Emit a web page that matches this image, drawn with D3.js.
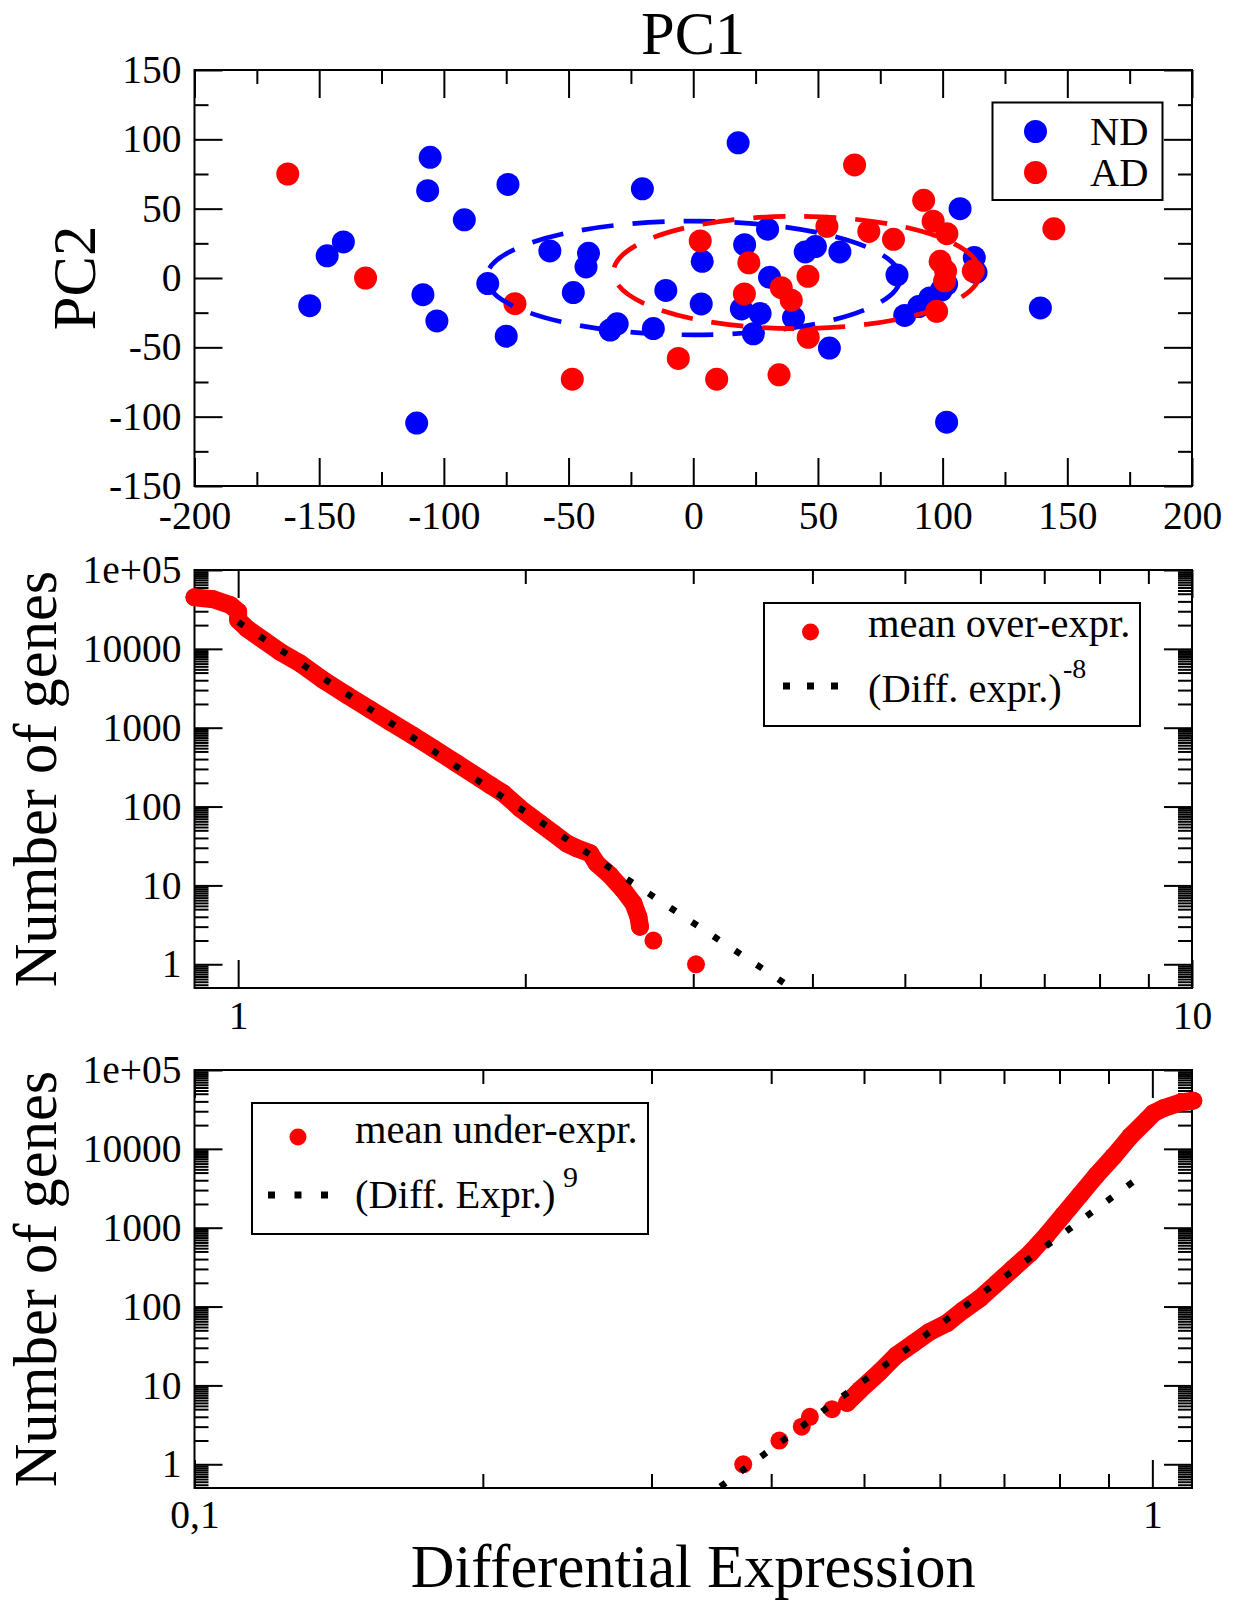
<!DOCTYPE html>
<html><head><meta charset="utf-8">
<script src="https://cdn.jsdelivr.net/npm/d3@7"></script>
<style>
body{margin:0;background:#fff}
svg{display:block}
text{font-family:"Liberation Serif","Times New Roman",serif;fill:#000}
</style>
</head><body>
<svg id="c" width="1234" height="1601"></svg>
<script>
// ---------------- DATA ----------------
// Panel 1: PCA scatter (PC1, PC2)
const ndPoints = [
  [-105.5, 87], [-106.5, 63], [-74.3, 67.5], [-91.8, 42], [-140.3, 26], [-146.8, 16],
  [-153.8, -20], [-108.4, -12], [-102.8, -31], [-82.4, -4], [-75, -42], [-110.9, -104.6],
  [-57.5, 19.5], [-42, 17.8], [-43, 8], [-48.1, -10.5], [-33.3, -37.5], [-30.5, -33],
  [-16, -36.5], [-11, -9], [-20.4, 64.3], [18, 97.5], [3.6, 12], [3.2, -18.7],
  [20.6, 24], [29.8, 35.2], [30.6, 0.5], [19.3, -22.3], [26.8, -25.6], [24.1, -40.2],
  [40.2, -28.7], [44.9, 18.8], [49, 22.7], [58.8, 18.8], [54.6, -50.5], [81.7, 2.2],
  [84.8, -27], [90.4, -20.6], [94.9, -14.4], [99.5, -8.7], [101.6, -4.4], [107, 50],
  [112.7, 14.8], [113.4, 4], [139.2, -21.6], [101.6, -104]
];
const adPoints = [
  [-162.6, 75], [-131.4, 0], [-71.5, -18.5], [-48.5, -73], [-6, -58], [2.8, 26.7],
  [9.4, -73], [22.3, 11], [20.5, -11.5], [34.4, -69.8], [35.3, -7], [39.3, -16],
  [46, 1.2], [46.1, -42.8], [53.6, 37.3], [64.7, 81.5], [70.4, 33.6], [80.3, 27.9],
  [92.4, 56], [96.2, 41], [101.7, 32], [99, 12], [101.2, 5], [100.8, -2],
  [97.6, -24], [112.3, 5], [144.6, 35.5]
];
const ndEllipse = {cx: 0, cy: 0, rx: 83, ry: 41};
const adEllipse = {cx: 41.5, cy: 4, rx: 73.5, ry: 40.5};
const pcaXTicks = [-200, -150, -100, -50, 0, 50, 100, 150, 200];
const pcaYTicks = [-150, -100, -50, 0, 50, 100, 150];
const pcaSeries = ["ND", "AD"];

// Panel 2: mean over-expression (Diff. expr., number of genes)
const overExpr = [
  [0.90, 45000], [0.942, 42500], [0.981, 36000], [1.0, 29600], [1.0, 23200], [1.021, 18200],
  [1.063, 12900], [1.106, 9200], [1.161, 6560], [1.228, 4030], [1.300, 2600], [1.375, 1710],
  [1.443, 1190], [1.526, 790], [1.602, 548], [1.695, 353], [1.793, 228], [1.837, 188],
  [1.897, 147], [1.975, 95], [2.073, 61], [2.140, 46], [2.211, 34], [2.265, 29.6],
  [2.339, 25.6], [2.376, 19], [2.454, 13.5], [2.535, 8.7], [2.597, 5.9], [2.628, 4], [2.638, 3]
];
const overExprTail = [[2.725, 2], [3.02, 1]];
const overFit = [[1.0, 21900], [3.76, 0.55]];

// Panel 3: mean under-expression
const underExprTail = [[0.374, 1], [0.408, 2], [0.4305, 3], [0.439, 4], [0.463, 5]];
const underExpr = [
  [0.48, 6], [0.4953, 8.75], [0.5195, 14.9], [0.5408, 24.3], [0.563, 34.2], [0.5858, 48],
  [0.6099, 61.3], [0.635, 90.3], [0.6607, 127], [0.6878, 197], [0.7157, 305], [0.7452, 473],
  [0.7757, 807], [0.8073, 1449], [0.8404, 2600], [0.8747, 4660], [0.9104, 7960], [0.9478, 14260],
  [0.9865, 23200], [1.0023, 28200], [1.0266, 32700], [1.0686, 38500], [1.1034, 40800]
];
const underFit = [[0.354, 0.52], [0.957, 3900]];

const countTicks = [1, 10, 100, 1000, 10000, 100000];
const countTickLabels = ["1", "10", "100", "1000", "10000", "1e+05"];
const overXTicks = [1, 10];
const overXTickLabels = ["1", "10"];
const underXTicks = [0.1, 1];
const underXTickLabels = ["0,1", "1"];

// ---------------- LAYOUT ----------------
const FONT = '"Liberation Serif","Times New Roman",serif';
const TICK_FS = 39.5, LEG_FS = 40.5, TITLE_FS = 60.5;
const L = 194.5, R = 1192;
const P1 = {top: 70, bottom: 486};
const P2 = {top: 570, bottom: 988};
const P3 = {top: 1070, bottom: 1488};
const BLUE = "#0000ff", RED = "#ff0000";
const svg = d3.select("#c");

function frame(p) {
  svg.append("rect").attr("x", L).attr("y", p.top).attr("width", R - L).attr("height", p.bottom - p.top)
    .attr("fill", "none").attr("stroke", "#000").attr("stroke-width", 2);
}

function axes(x, y, p, xMajor, xMinor, yMajor, yMinor, xFmt, yFmt, xLabelY) {
  const MAJ = 28, MIN = 14;
  const add = (axis, tr) => {
    const g = svg.append("g").attr("transform", tr).call(axis);
    g.select(".domain").remove();
    g.selectAll("line").attr("stroke", "#000").attr("stroke-width", 2);
    g.attr("font-size", TICK_FS).attr("font-family", FONT);
    return g;
  };
  const gb = add(d3.axisBottom(x).tickValues(xMajor).tickSize(-MAJ).tickFormat(xFmt), `translate(0,${p.bottom})`);
  gb.selectAll("text").attr("y", xLabelY).attr("dy", null);
  add(d3.axisBottom(x).tickValues(xMinor).tickSize(-MIN).tickFormat(""), `translate(0,${p.bottom})`);
  add(d3.axisTop(x).tickValues(xMajor).tickSize(-MAJ).tickFormat(""), `translate(0,${p.top})`);
  add(d3.axisTop(x).tickValues(xMinor).tickSize(-MIN).tickFormat(""), `translate(0,${p.top})`);
  add(d3.axisLeft(y).tickValues(yMajor).tickSize(-MAJ).tickPadding(13).tickFormat(yFmt), `translate(${L},0)`);
  add(d3.axisLeft(y).tickValues(yMinor).tickSize(-MIN).tickFormat(""), `translate(${L},0)`);
  add(d3.axisRight(y).tickValues(yMajor).tickSize(-MAJ).tickFormat(""), `translate(${R},0)`);
  add(d3.axisRight(y).tickValues(yMinor).tickSize(-MIN).tickFormat(""), `translate(${R},0)`);
}

function logMinor(domain, mults) {
  const out = [];
  for (let e = -2; e <= 6; e++) {
    mults.forEach(m => {
      const v = m * Math.pow(10, e);
      if (v > domain[0] * 1.0001 && v < domain[1] * 0.9999) out.push(v);
    });
  }
  return out;
}
const yMinorMults = [2, 3, 4, 5, 5.5, 6, 6.5, 7, 7.5, 8, 8.5, 9, 9.5];
const xMinorMults = [2, 3, 4, 5, 6, 7, 8, 9];

// ---------------- PANEL 1 ----------------
const x1 = d3.scaleLinear().domain([-200, 200]).range([L, R]);
const y1 = d3.scaleLinear().domain([-150, 150]).range([P1.bottom, P1.top]);
frame(P1);
const pcaXMinor = d3.range(-175, 200, 50);
const pcaYMinor = d3.range(-125, 150, 50);
axes(x1, y1, P1, pcaXTicks, pcaXMinor, pcaYTicks, pcaYMinor, d => d, d => d, 43);

const gp1 = svg.append("g");
gp1.selectAll("circle.nd").data(ndPoints).join("circle").attr("class", "nd")
  .attr("cx", d => x1(d[0])).attr("cy", d => y1(d[1])).attr("r", 11.5).attr("fill", BLUE);
gp1.selectAll("circle.ad").data(adPoints).join("circle").attr("class", "ad")
  .attr("cx", d => x1(d[0])).attr("cy", d => y1(d[1])).attr("r", 11.5).attr("fill", RED);
[[ndEllipse, BLUE], [adEllipse, RED]].forEach(([e, c]) => {
  gp1.append("ellipse")
    .attr("cx", x1(e.cx)).attr("cy", y1(e.cy))
    .attr("rx", x1(e.cx + e.rx) - x1(e.cx)).attr("ry", y1(e.cy - e.ry) - y1(e.cy))
    .attr("fill", "none").attr("stroke", c).attr("stroke-width", 4.7)
    .attr("stroke-dasharray", "32 19");
});

// title and y label
svg.append("text").attr("x", x1(0)).attr("y", 54).attr("text-anchor", "middle")
  .attr("font-size", TITLE_FS).text("PC1");
svg.append("text").attr("transform", `translate(95,${(P1.top + P1.bottom) / 2}) rotate(-90)`)
  .attr("text-anchor", "middle").attr("font-size", TITLE_FS).text("PC2");

// legend 1
const lg1 = svg.append("g");
lg1.append("rect").attr("x", 992.5).attr("y", 102.5).attr("width", 170).attr("height", 97.5)
  .attr("fill", "#fff").attr("stroke", "#000").attr("stroke-width", 2);
pcaSeries.forEach((s, i) => {
  lg1.append("circle").attr("cx", 1035.5).attr("cy", 131.5 + i * 41).attr("r", 11.5)
    .attr("fill", i === 0 ? BLUE : RED);
  lg1.append("text").attr("x", 1148.5).attr("y", 145 + i * 41).attr("text-anchor", "end")
    .attr("font-size", LEG_FS).text(s);
});

// ---------------- PANEL 2 ----------------
const x2 = d3.scaleLog().domain([0.9, 10]).range([L, R]);
const y2 = d3.scaleLog().domain([0.5, 1e5]).range([P2.bottom, P2.top]);
frame(P2);
axes(x2, y2, P2, overXTicks, logMinor([0.9, 10], xMinorMults),
  countTicks, logMinor([0.5, 1e5], yMinorMults),
  (d, i) => overXTickLabels[i], (d, i) => countTickLabels[i], 41);

const gp2 = svg.append("g");
gp2.append("path").datum(overExpr)
  .attr("d", d3.line().x(d => x2(d[0])).y(d => y2(d[1])))
  .attr("fill", "none").attr("stroke", RED).attr("stroke-width", 18)
  .attr("stroke-linejoin", "round").attr("stroke-linecap", "round");
gp2.selectAll("circle").data(overExpr.concat(overExprTail)).join("circle")
  .attr("cx", d => x2(d[0])).attr("cy", d => y2(d[1])).attr("r", 9).attr("fill", RED);
gp2.append("path").datum(overFit)
  .attr("d", d3.line().x(d => x2(d[0])).y(d => y2(d[1])))
  .attr("fill", "none").attr("stroke", "#000").attr("stroke-width", 6.5)
  .attr("stroke-dasharray", "6.5 19.4");

svg.append("text").attr("transform", `translate(55.5,${(P2.top + P2.bottom) / 2}) rotate(-90)`)
  .attr("text-anchor", "middle").attr("font-size", TITLE_FS).text("Number of genes");

// legend 2
const lg2 = svg.append("g");
lg2.append("rect").attr("x", 764).attr("y", 603).attr("width", 376).attr("height", 123)
  .attr("fill", "#fff").attr("stroke", "#000").attr("stroke-width", 2);
lg2.append("circle").attr("cx", 810.5).attr("cy", 632).attr("r", 8.5).attr("fill", RED);
lg2.append("text").attr("x", 868).attr("y", 637).attr("font-size", LEG_FS).text("mean over-expr.");
lg2.append("line").attr("x1", 783).attr("x2", 839).attr("y1", 686).attr("y2", 686)
  .attr("stroke", "#000").attr("stroke-width", 7).attr("stroke-dasharray", "7 17");
lg2.append("text").attr("x", 868).attr("y", 702).attr("font-size", LEG_FS).text("(Diff. expr.)");
lg2.append("text").attr("x", 1063).attr("y", 678).attr("font-size", 28).text("-8");

// ---------------- PANEL 3 ----------------
const x3 = d3.scaleLog().domain([0.1, 1.1]).range([L, R]);
const y3 = d3.scaleLog().domain([0.5, 1e5]).range([P3.bottom, P3.top]);
frame(P3);
axes(x3, y3, P3, underXTicks, logMinor([0.1, 1.1], xMinorMults),
  countTicks, logMinor([0.5, 1e5], yMinorMults),
  (d, i) => underXTickLabels[i], (d, i) => countTickLabels[i], 40);

const gp3 = svg.append("g");
gp3.append("path").datum(underExpr)
  .attr("d", d3.line().x(d => x3(d[0])).y(d => y3(d[1])))
  .attr("fill", "none").attr("stroke", RED).attr("stroke-width", 18)
  .attr("stroke-linejoin", "round").attr("stroke-linecap", "round");
gp3.selectAll("circle").data(underExprTail.concat(underExpr)).join("circle")
  .attr("cx", d => x3(d[0])).attr("cy", d => y3(d[1])).attr("r", 9).attr("fill", RED);
gp3.append("path").datum(underFit)
  .attr("d", d3.line().x(d => x3(d[0])).y(d => y3(d[1])))
  .attr("fill", "none").attr("stroke", "#000").attr("stroke-width", 6.5)
  .attr("stroke-dasharray", "6.5 18.8");

svg.append("text").attr("transform", `translate(55.5,${(P3.top + P3.bottom) / 2}) rotate(-90)`)
  .attr("text-anchor", "middle").attr("font-size", TITLE_FS).text("Number of genes");

// legend 3
const lg3 = svg.append("g");
lg3.append("rect").attr("x", 252).attr("y", 1103).attr("width", 396).attr("height", 131)
  .attr("fill", "#fff").attr("stroke", "#000").attr("stroke-width", 2);
lg3.append("circle").attr("cx", 298).attr("cy", 1137).attr("r", 8.5).attr("fill", RED);
lg3.append("text").attr("x", 355).attr("y", 1143).attr("font-size", LEG_FS).text("mean under-expr.");
lg3.append("line").attr("x1", 268).attr("x2", 328).attr("y1", 1195).attr("y2", 1195)
  .attr("stroke", "#000").attr("stroke-width", 7).attr("stroke-dasharray", "7 19.5");
lg3.append("text").attr("x", 355).attr("y", 1208).attr("font-size", LEG_FS).text("(Diff. Expr.)");
lg3.append("text").attr("x", 563).attr("y", 1187).attr("font-size", 30).text("9");

// x label
svg.append("text").attr("x", (L + R) / 2).attr("y", 1587).attr("text-anchor", "middle")
  .attr("font-size", TITLE_FS).text("Differential Expression");
</script>
</body></html>
